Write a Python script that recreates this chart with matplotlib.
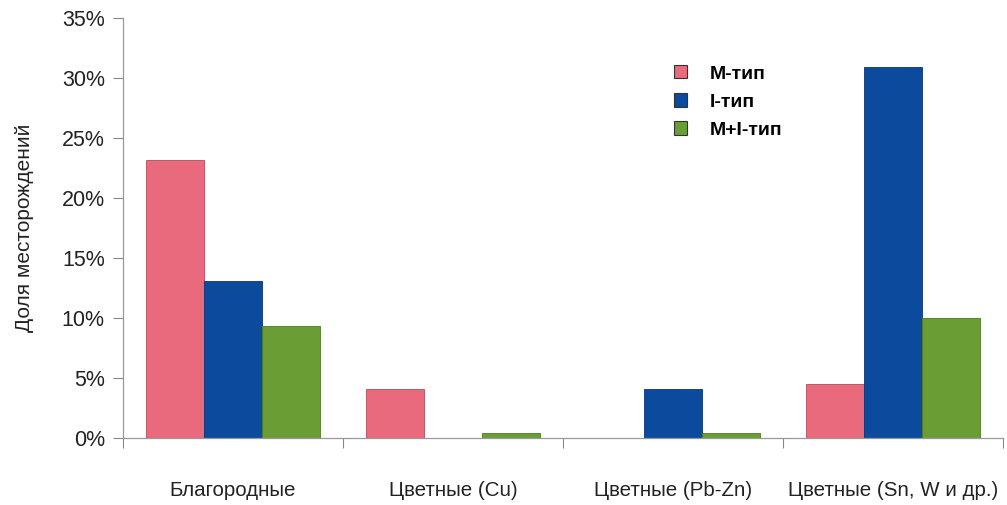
import numpy as np
import matplotlib.pyplot as plt
from matplotlib.ticker import FuncFormatter, FixedLocator

plt.rcParams['font.family'] = ['Liberation Sans', 'DejaVu Sans']

categories = ['Благородные', 'Цветные (Cu)', 'Цветные (Pb-Zn)', 'Цветные (Sn, W и др.)']
m_type = [23.2, 4.1, 0.0, 4.5]
i_type = [13.1, 0.0, 4.1, 30.9]
mi_type = [9.3, 0.4, 0.4, 10.0]
series_names = ['M-тип', 'I-тип', 'M+I-тип']

colors = ['#E86A7C', '#0B4A9C', '#6A9E34']
edges = ['#B84A5A', '#08367A', '#4E7A24']

fig = plt.figure(figsize=(10.07, 5.05), dpi=100)
ax = fig.add_axes([0.122, 0.133, 0.874, 0.831])

x = np.arange(len(categories))
w = 0.264
for k, vals in enumerate([m_type, i_type, mi_type]):
    ax.bar(x + (k - 1) * w, vals, w, color=colors[k], edgecolor=edges[k],
           linewidth=0.6, label=series_names[k])

ax.set_xlim(-0.5, len(categories) - 0.5)
ax.set_ylim(0, 35)
ax.set_yticks(np.arange(0, 36, 5))
ax.yaxis.set_major_formatter(FuncFormatter(lambda v, p: f'{int(v)}%'))
ax.tick_params(axis='y', labelsize=15.5, labelcolor='#222222', length=7,
               width=0.8, pad=6, direction='out', color='#888888')

ax.set_xticks(x)
ax.set_xticklabels(categories, fontsize=14.8, color='#222222')
ax.tick_params(axis='x', which='major', length=0, pad=31)
ax.xaxis.set_minor_locator(FixedLocator(np.arange(-0.5, len(categories), 1.0)))
ax.tick_params(axis='x', which='minor', length=7, width=0.8,
               color='#888888', direction='out')

for s in ['top', 'right']:
    ax.spines[s].set_visible(False)
for s in ['left', 'bottom']:
    ax.spines[s].set_color('#999999')
    ax.spines[s].set_linewidth(0.9)

ax.set_ylabel('Доля месторождений', fontsize=15, color='#222222', labelpad=20)

leg = ax.legend(loc='upper left', bbox_to_anchor=(0.606, 0.93), frameon=False,
                prop={'weight': 'bold', 'size': 14}, handlelength=0.68,
                handleheight=0.68, handletextpad=1.15, labelspacing=0.55)
for h in leg.legend_handles:
    h.set_edgecolor('#333333')
    h.set_linewidth(0.8)

fig.savefig('out.png', dpi=100)
